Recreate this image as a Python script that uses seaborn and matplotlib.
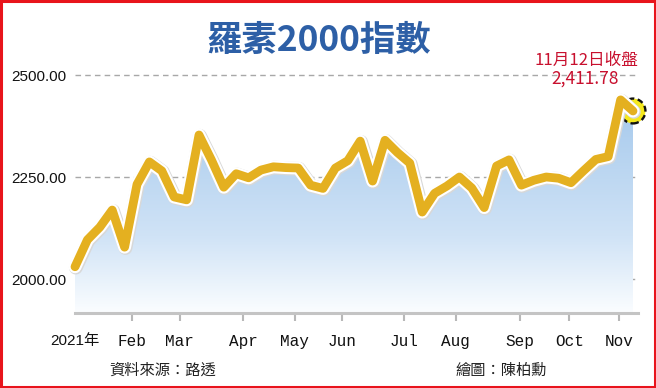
import numpy as np
import pandas as pd
import matplotlib
matplotlib.use("Agg")
import matplotlib.pyplot as plt
import matplotlib.patheffects as pe
from matplotlib.patches import Rectangle
from matplotlib.colors import LinearSegmentedColormap
import matplotlib.dates as mdates
import seaborn as sns

# ---------------- data ----------------
dates = pd.date_range("2021-01-01", "2021-11-12", freq="W-FRI")
values = [2030, 2096, 2127, 2169, 2078, 2232, 2287, 2265, 2201, 2194,
          2353, 2292, 2225, 2258, 2248, 2267, 2275, 2273, 2272, 2230,
          2222, 2272, 2290, 2338, 2240, 2340, 2310, 2284, 2164, 2210,
          2228, 2250, 2223, 2175, 2277, 2292, 2230, 2242, 2250, 2247,
          2236, 2265, 2293, 2300, 2439, 2411.78]
tick_dates = ["2021-01-01", "2021-02-02", "2021-03-01", "2021-04-06", "2021-05-05",
              "2021-06-01", "2021-07-06", "2021-08-04", "2021-09-09", "2021-10-07",
              "2021-11-04"]
tick_labels = ["2021年", "Feb", "Mar", "Apr", "May", "Jun", "Jul", "Aug", "Sep", "Oct", "Nov"]
y_ticks = [2000, 2250, 2500]
title = "羅素2000指數"
note_line1 = "11月12日收盤"
note_line2 = "2,411.78"
source = "資料來源：路透"
credit = "繪圖：陳柏勳"

df = pd.DataFrame({"date": dates, "value": values})

# ---------------- style ----------------
sns.set_theme(style="white")
plt.rcParams["font.family"] = ["Noto Sans CJK TC", "DejaVu Sans"]

W, H = 656, 388
fig = plt.figure(figsize=(W / 100, H / 100), dpi=100)
fig.patch.set_facecolor("white")

ax_l, ax_r, ax_t, ax_b = 75, 638, 60, 313
ax = fig.add_axes([ax_l / W, 1 - ax_b / H, (ax_r - ax_l) / W, (ax_b - ax_t) / H])
ax.set_facecolor("white")

px_per_day = (633 - 75) / 315.0
x0 = mdates.date2num(pd.Timestamp("2021-01-01"))
x1 = mdates.date2num(pd.Timestamp("2021-11-12")) + (ax_r - 633) / px_per_day
y_per_px = 250 / 102.0
ylo = 2000 - (ax_b - 279) * y_per_px
yhi = 2500 + (75 - ax_t) * y_per_px
ax.set_xlim(x0, x1)
ax.set_ylim(ylo, yhi)

# gradient fill under the line
poly = ax.fill_between(df["date"], df["value"], ylo, color="none", lw=0)
grad = np.linspace(0, 1, 256).reshape(-1, 1)
cmap = LinearSegmentedColormap.from_list(
    "g", [(0, "#fbfdff"), (0.35, "#d0e3f6"), (1, "#a4c8ec")])
img = ax.imshow(grad, cmap=cmap, aspect="auto", origin="lower",
                extent=[x0, x1, ylo, 2450], zorder=1)
img.set_clip_path(poly.get_paths()[0], transform=ax.transData)

# grid lines
for yv in y_ticks:
    ax.axhline(yv, color="#a8a8a8", lw=1, ls=(0, (4, 3)), zorder=0.5)

# end marker
ax.scatter([df["date"].iloc[-1]], [df["value"].iloc[-1]], s=320, facecolor="#f4e81c",
           edgecolor="#111111", linewidths=1.7, linestyle=(0, (2.5, 1.5)), zorder=3,
           clip_on=False)

# main line
sns.lineplot(data=df, x="date", y="value", ax=ax, color="#e4b020", lw=6.3, zorder=4)
ln = ax.lines[-1]
ln.set_solid_joinstyle("round")
ln.set_solid_capstyle("round")
ln.set_clip_on(False)
ln.set_path_effects([
    pe.Stroke(linewidth=10, foreground="#d8d8d8", offset=(0.6, -0.6)),
    pe.Stroke(linewidth=9.3, foreground="white"),
    pe.Normal()])

# axes decoration
for s in ["left", "right", "top"]:
    ax.spines[s].set_visible(False)
ax.spines["bottom"].set_color("#c4c4c4")
ax.spines["bottom"].set_linewidth(2.2)
ax.set_xlabel("")
ax.set_ylabel("")

ax.set_xticks([mdates.date2num(pd.Timestamp(d)) for d in tick_dates])
ax.set_xticklabels(tick_labels)
ax.tick_params(axis="x", length=6, width=1.5, color="#b8b8b8", direction="out", pad=9,
               bottom=True)
ax.xaxis.get_ticklines()[0].set_visible(False)
for i, lab in enumerate(ax.get_xticklabels()):
    if i == 0:
        lab.set_fontfamily(["Liberation Sans", "Noto Sans CJK TC"])
        lab.set_fontsize(11)
    else:
        lab.set_fontfamily(["Liberation Mono", "DejaVu Sans Mono"])
        lab.set_fontsize(11.5)
    lab.set_color("#111111")

ax.set_yticks(y_ticks)
ax.set_yticklabels([f"{v:.2f}" for v in y_ticks])
ax.tick_params(axis="y", length=0, pad=6)
for lab in ax.get_yticklabels():
    lab.set_fontfamily(["Liberation Sans", "DejaVu Sans"])
    lab.set_fontsize(11)
    lab.set_color("#111111")

# texts
fig.text(319 / W, 1 - 40 / H, title, ha="center", va="center", fontsize=25.5,
         fontweight="bold", color="#2d5fa6", family=["Noto Sans CJK TC", "DejaVu Sans"])
fig.text(586 / W, 1 - 60 / H, note_line1, ha="center", va="center", fontsize=12,
         color="#c8102e", family=["Noto Sans CJK TC", "DejaVu Sans"])
fig.text(585 / W, 1 - 79 / H, note_line2, ha="center", va="center", fontsize=12.5,
         color="#c8102e", family=["Noto Sans CJK TC", "DejaVu Sans"])
fig.text(163 / W, 1 - 370 / H, source, ha="center", va="center", fontsize=11,
         color="#222222", family=["Noto Sans CJK TC", "DejaVu Sans"])
fig.text(501 / W, 1 - 370 / H, credit, ha="center", va="center", fontsize=11,
         color="#222222", family=["Noto Sans CJK TC", "DejaVu Sans"])

# red frame
fig.patches.append(Rectangle((0.0015, 0.0025), 0.997, 0.995, transform=fig.transFigure,
                             fill=False, edgecolor="#e8141c", lw=2.2))

fig.savefig("out.png", dpi=100)
